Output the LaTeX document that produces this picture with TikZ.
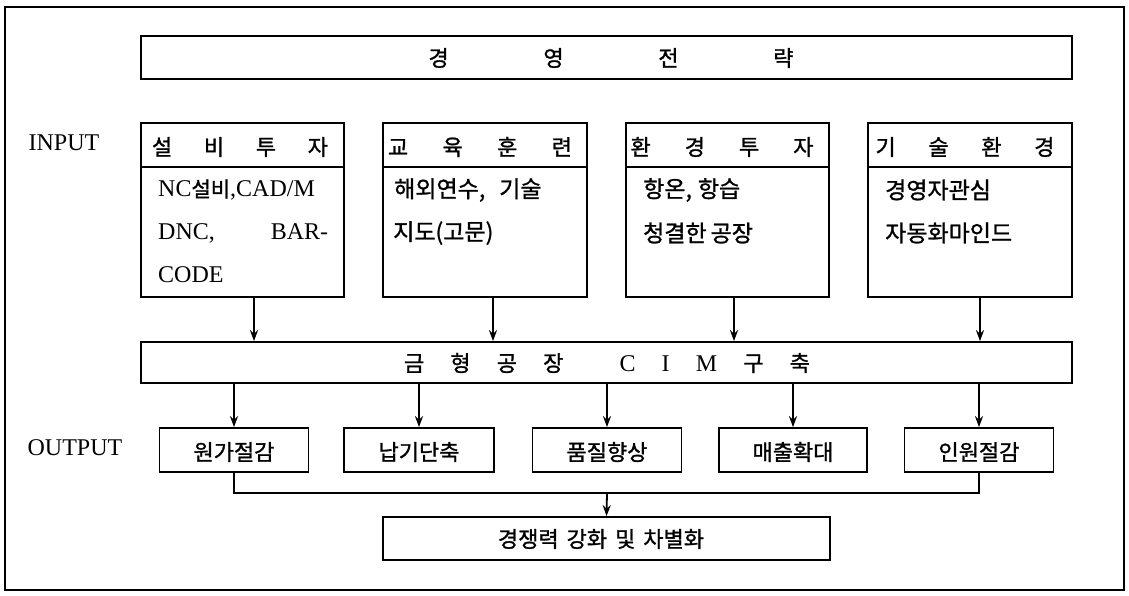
\documentclass[tikz,border=0pt]{standalone}
\usepackage{fontspec}
\setmainfont{Liberation Serif}
\newfontfamily\krfont[FakeBold=1.2]{Noto Sans CJK KR}
\usetikzlibrary{arrows.meta}
\newcommand\kor[1]{{\krfont\fontsize{21}{26}\selectfont #1}}
\tikzset{
 box/.style={draw, line width=1.8pt, inner sep=0pt},
 lbl/.style={inner sep=0pt, font=\fontsize{24}{28}\selectfont},
 kt/.style={inner sep=0pt, font=\krfont\fontsize{22}{26}\selectfont},
 kb/.style={inner sep=0pt, font=\krfont\fontsize{23}{27}\selectfont},
 arr/.style={line width=1.8pt, -{Stealth[length=11pt,width=8pt]}},
 busline/.style={line width=1.1pt},
}
\begin{document}
\begin{tikzpicture}[x=1pt,y=-1pt]
\useasboundingbox (0,0) rectangle (1129,595);
\draw[line width=2pt] (5,7) rectangle (1124,590);

% strategy
\node[box, minimum width=931pt, minimum height=43pt] (strat) at (606.5,57.5) {};
\node[kt] (stratT) at (611,58) {\makebox[365pt]{경\hfill 영\hfill 전\hfill 략}};

% labels
\node[lbl] (inl) at (64,143) {INPUT};
\node[lbl] (outl) at (75,448) {OUTPUT};

% input boxes
\foreach \n/\cx/\w in {1/242.5/203, 2/485/204, 3/727.5/203, 4/970/204}{
  \node[box, minimum width=\w pt, minimum height=44pt] (h\n) at (\cx,145) {};
  \node[box, minimum width=\w pt, minimum height=130pt] (b\n) at (\cx,232) {};
}
\node[kt] (h1t) at (240,147) {\makebox[176pt]{설\hfill 비\hfill 투\hfill 자}};
\node[kt] (h2t) at (480,147) {\makebox[184pt]{교\hfill 육\hfill 훈\hfill 련}};
\node[kt] (h3t) at (722,147) {\makebox[183pt]{환\hfill 경\hfill 투\hfill 자}};
\node[kt] (h4t) at (965,147) {\makebox[179pt]{기\hfill 술\hfill 환\hfill 경}};

\node[lbl, anchor=west] (t1a) at (158,190) {NC\kor{설비},CAD/M};
\node[lbl, anchor=west] (t1b) at (158,233) {\makebox[170pt]{DNC,\hfill BAR-}};
\node[lbl, anchor=west] (t1c) at (158,275) {CODE};
\node[kb, anchor=west] (t2a) at (394,190) {해외연수,\hspace{14pt}기술};
\node[kb, anchor=west] (t2b) at (393,233) {지도(고문)};
\node[kb, anchor=west] (t3a) at (643,190) {항온,\hspace{6pt}항습};
\node[kb, anchor=west] (t3b) at (643,233) {청결한\hspace{4pt}공장};
\node[kb, anchor=west] (t4a) at (885,190) {경영자관심};
\node[kb, anchor=west] (t4b) at (885,233) {자동화마인드};

% CIM
\node[box, minimum width=931pt, minimum height=41pt] (cim) at (606.5,362.5) {};
\node[kt] (cimT) at (607,363) {\makebox[406pt]{금\hfill 형\hfill 공\hfill 장\hspace{30pt}\hfill {\fontsize{24}{28}\selectfont\rmfamily C}\hfill {\fontsize{24}{28}\selectfont\rmfamily I}\hfill {\fontsize{24}{28}\selectfont\rmfamily M}\hfill 구\hfill 축}};

\draw[arr] ([xshift=11.5pt]b1.south) -- ([xshift=11.5pt]b1.south |- cim.north);
\draw[arr] ([xshift=8pt]b2.south) -- ([xshift=8pt]b2.south |- cim.north);
\draw[arr] ([xshift=6.5pt]b3.south) -- ([xshift=6.5pt]b3.south |- cim.north);
\draw[arr] ([xshift=10pt]b4.south) -- ([xshift=10pt]b4.south |- cim.north);

% outputs
\foreach \n/\cx/\w/\t in {1/234/149/원가절감, 2/419/150/납기단축, 3/607/149/품질향상, 4/793/148/매출확대, 5/979/149/인원절감}{
  \node[box, minimum width=\w pt, minimum height=44pt] (o\n) at (\cx,450) {};
  \node[kt] (o\n t) at (\cx,452) {\t};
  \draw[arr] (o\n |- cim.south) -- (o\n.north);
}

% final
\node[box, minimum width=447pt, minimum height=43pt] (fin) at (606.5,538.5) {};
\node[kt] (finT) at (601,539) {경쟁력\hspace{8pt}강화\hspace{8pt}및\hspace{8pt}차별화};

\coordinate (bus) at (607,493);
\draw[busline] (o1.south) |- (bus) -| (o5.south);
\draw[arr] (bus) -- (fin.north);
\end{tikzpicture}
\end{document}
